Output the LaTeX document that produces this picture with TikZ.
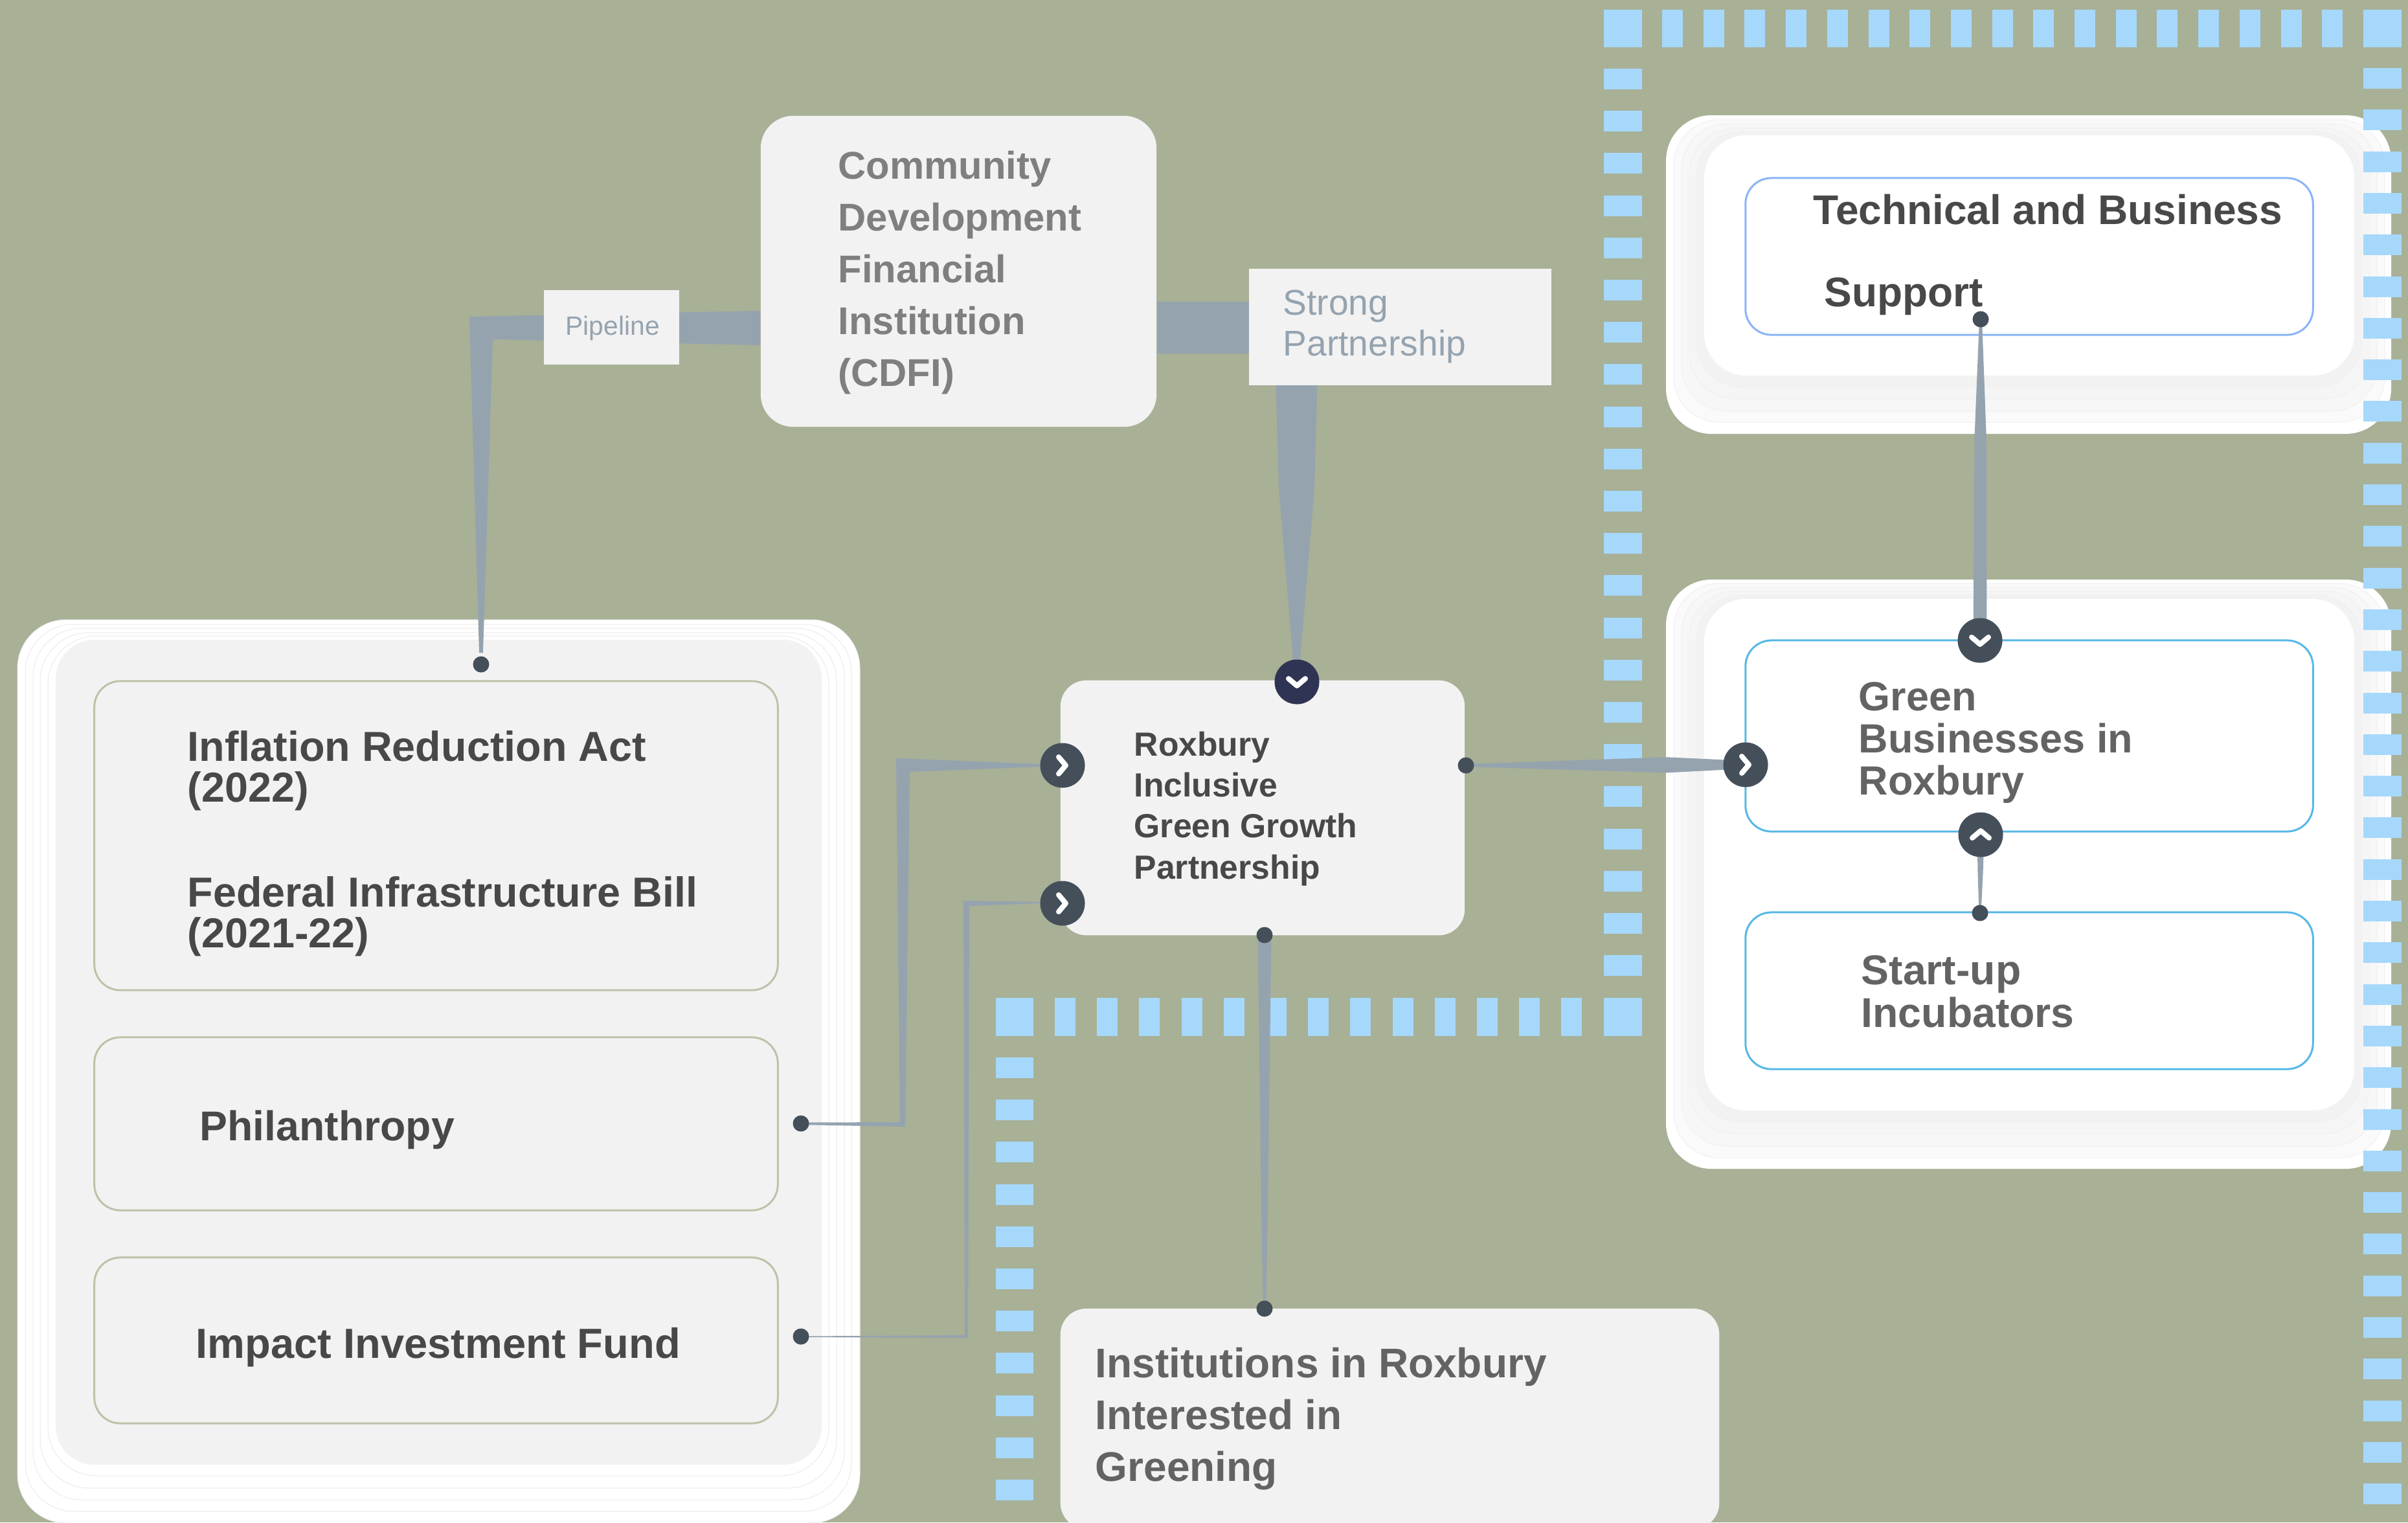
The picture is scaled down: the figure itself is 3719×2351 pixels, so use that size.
\documentclass[tikz,border=0pt]{standalone}
\usepackage{fontspec}
\setmainfont{Liberation Sans}
\usetikzlibrary{positioning,calc}
\definecolor{sage}{HTML}{A8B096}
\definecolor{sky}{HTML}{A6D8FC}
\definecolor{steel}{HTML}{95A3AF}
\definecolor{slate}{HTML}{444F5A}
\definecolor{navy}{HTML}{2F3454}
\definecolor{paper}{HTML}{F2F2F2}
\definecolor{ink}{HTML}{484848}
\definecolor{inkb}{HTML}{636363}
\definecolor{inkc}{HTML}{7F7F7F}
\definecolor{olive}{HTML}{BCC3A8}
\definecolor{periwinkle}{HTML}{8AB4F8}
\definecolor{lagoon}{HTML}{56B8E6}
\pgfdeclarelayer{top}
\pgfsetlayers{main,top}
\newcommand{\fs}[2]{\fontsize{#1}{#2}\selectfont}
\newcommand{\taper}[6]{\fill[link] ($(#1)!#3!90:(#2)$) -- ($(#1)!#5!(#2)!#4!90:(#2)$) -- ($(#2)!#6!-90:(#1)$) -- ($(#2)!#6!90:(#1)$) -- ($(#1)!#5!(#2)!#4!-90:(#2)$) -- ($(#1)!#3!-90:(#2)$) -- cycle;}
\tikzstyle{link} = [fill=steel]
\tikzstyle{tickbox} = [fill=sky]
\tikzstyle{layer} = [draw=black!6,line width=.01cm,rounded corners=.7cm]
\tikzstyle{txt} = [anchor=base west,align=left,inner sep=0pt,font=\bfseries,text=ink]
\tikzstyle{roundbox} = [rectangle,rounded corners=.4cm,inner sep=0pt]
\tikzstyle{graybox} = [roundbox,fill=paper]
\tikzstyle{oliveline} = [roundbox,fill=paper,draw=olive,line width=.03cm]
\tikzstyle{blueline} = [roundbox,fill=white,draw=lagoon,line width=.03cm]
\tikzstyle{stud} = [circle,fill=slate,minimum size=.25cm,inner sep=0pt]
\tikzstyle{chev} = [draw=white,line width=.08cm,line cap=round,line join=round]
\tikzstyle{chip} = [circle,fill=slate,minimum size=.69cm,inner sep=0pt]
\tikzstyle{chipright} = [chip,path picture={\draw[chev] ($(path picture bounding box.center)+(-6,-13)$) -- +(11,13) -- +(0,26);}]
\tikzstyle{chipdown} = [chip,path picture={\draw[chev] ($(path picture bounding box.center)+(-13,-5)$) -- +(13,11) -- +(26,0);}]
\tikzstyle{chipup} = [chip,path picture={\draw[chev] ($(path picture bounding box.center)+(-13,5)$) -- +(13,-11) -- +(26,0);}]

\begin{document}
\begin{tikzpicture}[x=.01cm,y=-.01cm]
	\useasboundingbox (0,0) rectangle (3719,2351);
	\clip (0,0) rectangle (3719,2351);
	\fill[sage] (0,0) rectangle (3719,2351);

	% panels
	\foreach \xa/\ya/\xb/\yb in {27/957/1328/2352,39/964/1315/2334,51/970/1304/2316,62/977/1292/2298,74/982/1280/2279}
		\draw[white!92!black,line width=.01cm,fill=white,rounded corners=.75cm] (\xa,\ya) rectangle (\xb,\yb);
	\fill[paper,rounded corners=.6cm] (86,988) rectangle (1269,2262);
	\foreach \ya/\yb/\yc/\yd/\ye/\yf/\yg/\yh/\yi/\yj in {178/185/191/198/203/670/652/635/616/598,895/901/907/913/919/1805/1788/1770/1751/1733} {
		\fill[white,rounded corners=.7cm] (2573,\ya) rectangle (3693,\yf);
		\filldraw[layer,fill=black!2] (2585,\yb) rectangle (3683,\yg);
		\filldraw[layer,fill=black!3] (2597,\yc) rectangle (3671,\yh);
		\filldraw[layer,fill=black!4] (2609,\yd) rectangle (3659,\yi);
		\filldraw[layer,fill=black!5] (2620,\ye) rectangle (3647,\yj);
	}
	\fill[white,rounded corners=.65cm] (2632,209) rectangle (3636,580);
	\fill[white,rounded corners=.65cm] (2632,925) rectangle (3636,1715);

	% dashed frames
	\fill[tickbox] (2477,15) rectangle (2536,73);
	\fill[tickbox] (3650,15) rectangle (3709,73);
	\foreach \k in {0,...,16}
		\fill[tickbox] ({2567+63.7*\k},15) rectangle ({2599+63.7*\k},73);
	\foreach \k in {0,...,21}
		\fill[tickbox] (2477,{106+65.2*\k}) rectangle (2536,{138+65.2*\k});
	\foreach \k in {0,...,35}
		\fill[tickbox] (3650,{105+64.3*\k}) rectangle (3709,{137+64.3*\k});
	\fill[tickbox] (1538,1541) rectangle (1596,1600);
	\fill[tickbox] (2477,1541) rectangle (2536,1600);
	\foreach \k in {0,...,12}
		\fill[tickbox] ({1629+65.2*\k},1541) rectangle ({1661+65.2*\k},1600);
	\foreach \k in {0,...,10}
		\fill[tickbox] (1538,{1633+65.2*\k}) rectangle (1596,{1665+65.2*\k});

	% boxes
	\node[oliveline,minimum width=10.55cm,minimum height=4.77cm] (acts) at (673.5,1290.5) {};
	\node[oliveline,minimum width=10.55cm,minimum height=2.67cm] (phil) at (673.5,1735.5) {};
	\node[oliveline,minimum width=10.55cm,minimum height=2.56cm] (fund) at (673.5,2070) {};
	\node[graybox,rounded corners=.5cm,minimum width=6.11cm,minimum height=4.8cm] (cdfi) at (1480.5,419) {};
	\node[graybox,minimum width=6.24cm,minimum height=3.935cm] (rox) at (1950,1247.5) {};
	\node[graybox,minimum width=10.17cm,minimum height=3.4cm] (inst) at (2146.5,2191) {};
	\node[blueline,draw=periwinkle,minimum width=8.76cm,minimum height=2.42cm] (tech) at (3134,396) {};
	\node[blueline,minimum width=8.76cm,minimum height=2.95cm] (green) at (3134,1136.5) {};
	\node[blueline,minimum width=8.76cm,minimum height=2.42cm] (start) at (3134,1530) {};

	% studs, chips and the two label boxes go above the links
	\begin{pgfonlayer}{top}
		\node[rectangle,fill=paper,minimum width=2.09cm,minimum height=1.15cm] (pipe) at (944.5,505.5) {};
		\node[rectangle,fill=paper,minimum width=4.67cm,minimum height=1.8cm] (strong) at (2162.5,505) {};
		\node[stud] (actsdot) at (743,1026) {};
		\node[stud] (childot) at (1237,1735) {};
		\node[stud] (funddot) at (1237,2064) {};
		\node[stud] (roxeast) at (2264,1182) {};
		\node[stud] (roxsouth) at (1953,1444) {};
		\node[stud] (instdot) at (1953,2021) {};
		\node[stud] (techdot) at (3059,493) {};
		\node[stud] (startdot) at (3058,1410) {};
		\node[chipdown,fill=navy] (roxtop) at (2003,1053) {};
		\node[chipright] (roxa) at (1641,1182) {};
		\node[chipright] (roxb) at (1641,1395) {};
		\node[chipright] (greenwest) at (2696,1181) {};
		\node[chipdown] (greentop) at (3058,989) {};
		\node[chipup] (greenbot) at (3059,1289) {};
	\end{pgfonlayer}

	% links
	\fill[link] ($(cdfi.west)+(0,61)$) -- (725,489) -- ($(actsdot)+(-3,-18)$) -- ($(actsdot)+(3,-18)$) -- (761,524) -- ($(cdfi.west)+(0,114)$) -- cycle;
	\fill[link] ($(cdfi.east)+(0,47)$) -- (2038,466) -- (2030,753) -- ($(roxtop)+(5,-33)$) -- ($(roxtop)+(-6,-33)$) -- (1975,753) -- (1969,546) -- ($(cdfi.east)+(0,127)$) -- cycle;
	\fill[link] ($(childot)+(0,-1.5)$) -- (1390,1733) -- (1384,1171) -- ($(roxa)+(-34,-2)$) -- ($(roxa)+(-34,2)$) -- (1405,1192) -- (1398,1740) -- ($(childot)+(0,2)$) -- cycle;
	\fill[link] ($(funddot)+(0,-.5)$) -- (1490,2062) -- (1488,1391) -- ($(roxb)+(-34,-2)$) -- ($(roxb)+(-34,0)$) -- (1497,1399) -- (1495,2066) -- ($(funddot)+(0,1)$) -- cycle;
	\taper{roxeast}{greenwest}{.02cm}{.12cm}{.72}{.06cm}
	\taper{roxsouth}{instdot}{.105cm}{.045cm}{.79}{.02cm}
	\taper{techdot}{greentop}{.02cm}{.09cm}{.36}{.105cm}
	\taper{startdot}{greenbot}{.015cm}{.04cm}{.5}{.055cm}

	% texts, anchored on the last line
	\begin{pgfonlayer}{top}
		\node[txt,font=\bfseries\fs{18.4}{17.9}] (actsa) at (289,1238) {Inflation Reduction Act\\(2022)};
		\node[txt,font=\bfseries\fs{18.4}{17.9}] (actsb) at (289,1463) {Federal Infrastructure Bill\\(2021-22)};
		\node[txt,font=\bfseries\fs{18.3}{18}] (philtxt) at (308,1761) {Philanthropy};
		\node[txt,font=\bfseries\fs{18.5}{18}] (fundtxt) at (302,2097) {Impact Investment Fund};
		\node[txt,font=\bfseries\fs{17}{22.7},text=inkc] (cdfitxt) at (1294,596) {Community\\Development\\Financial\\Institution\\(CDFI)};
		\node[txt,font=\fs{11.6}{14},text=steel] (pipetxt) at (873,517) {Pipeline};
		\node[txt,font=\fs{15.7}{17.9},text=steel] (strongtxt) at (1981,549) {Strong\\Partnership};
		\node[txt,font=\bfseries\fs{14.7}{18}] (roxtxt) at (1751,1357) {Roxbury\\Inclusive\\Green Growth\\Partnership};
		\node[txt,font=\bfseries\fs{18.2}{22.7},text=inkb] (insttxt) at (1691,2287) {Institutions in Roxbury\\Interested in\\Greening};
		\node[txt,font=\bfseries\fs{18.2}{36.1}] (techtxt) at (2800,473) {Technical and Business\\\hspace*{.17cm}Support};
		\node[txt,font=\bfseries\fs{17.9}{18.4},text=inkb] (greentxt) at (2870,1227) {Green\\Businesses in\\Roxbury};
		\node[txt,font=\bfseries\fs{18.3}{18.5},text=inkb] (starttxt) at (2874,1586) {Start-up\\Incubators};
	\end{pgfonlayer}
\end{tikzpicture}
\end{document}
